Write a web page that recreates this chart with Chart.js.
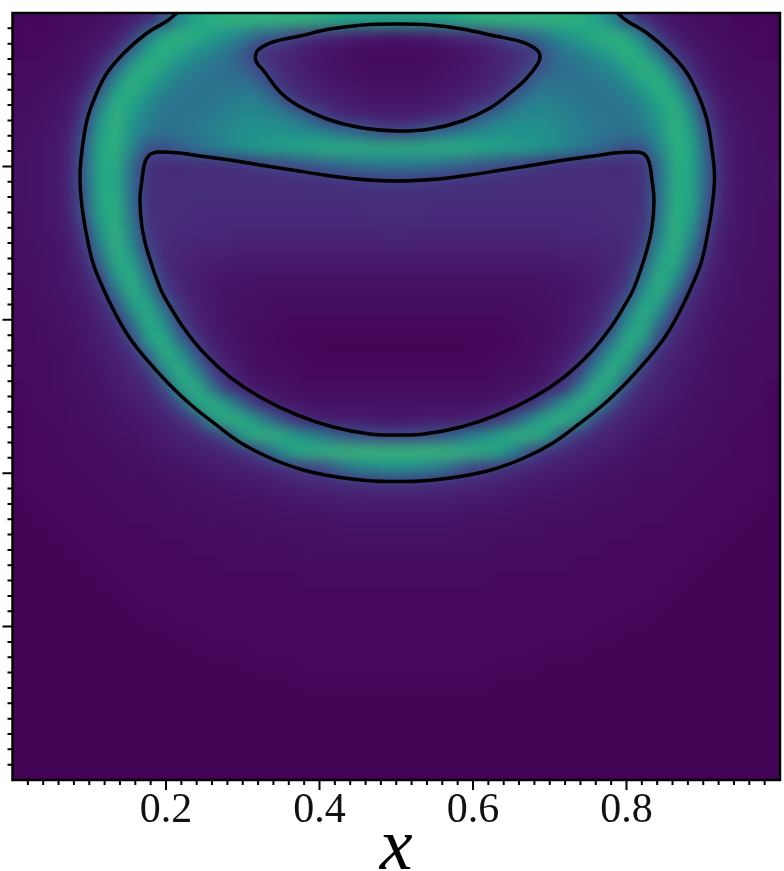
<!DOCTYPE html>
<html>
<head>
<meta charset="utf-8">
<title>x field</title>
<style>
  html, body { margin: 0; padding: 0; background: #fff; }
  canvas { display: block; }
</style>
<script src="https://cdn.jsdelivr.net/npm/chart.js@4/dist/chart.umd.min.js"></script>
</head>
<body>
<canvas id="myChart" width="784" height="871"></canvas>
<script>
'use strict';

// tick lists
let xTickLabels = [0.2, 0.4, 0.6, 0.8];
let majorTicks = [0.2, 0.4, 0.6, 0.8];
let minorTicks = [0.02, 0.04, 0.06, 0.08, 0.1, 0.12, 0.14, 0.16, 0.18, 0.22, 0.24, 0.26, 0.28, 0.3, 0.32, 0.34, 0.36, 0.38,
  0.42, 0.44, 0.46, 0.48, 0.5, 0.52, 0.54, 0.56, 0.58, 0.62, 0.64, 0.66, 0.68, 0.7, 0.72, 0.74, 0.76, 0.78,
  0.82, 0.84, 0.86, 0.88, 0.9, 0.92, 0.94, 0.96, 0.98];

// field, in percent of the colour range, top row first
let fieldRows = [
  [2,2,2,3,3,4,5,8,12,24,46,58,62,64,64,64,64,64,64,62,60,58,58,58,58,58,58,60,62,64,64,64,64,64,64,62,58,46,24,12,8,5,4,3,3,2,2,2],
  [2,2,2,3,4,5,8,15,42,60,64,62,56,50,42,32,28,20,14,12,10,8,7,6,6,7,8,10,12,14,20,28,32,42,50,56,62,64,60,42,15,8,5,4,3,2,2,2],
  [2,2,3,4,5,8,14,36,58,64,58,50,44,38,28,15,12,9,7,5,4,3,2,2,2,2,3,4,5,7,9,12,15,28,38,44,50,58,64,58,36,14,8,5,4,3,2,2],
  [3,3,3,4,6,12,32,58,64,57,47,42,38,36,30,22,13,10,8,6,5,4,3,3,3,3,4,5,6,8,10,13,22,30,36,38,42,47,57,64,58,32,12,6,4,3,3,3],
  [3,3,4,5,8,20,52,64,58,47,41,38,37,38,38,32,18,11,9,7,6,5,4,4,4,4,5,6,7,9,11,18,32,38,38,37,38,41,47,58,64,52,20,8,5,4,3,3],
  [3,4,5,6,13,38,62,60,48,41,38,38,39,41,43,42,34,18,12,10,8,7,6,6,6,6,7,8,10,12,18,34,42,43,41,39,38,38,41,48,60,62,38,13,6,5,4,3],
  [4,4,5,7,17,50,64,54,43,38,38,39,41,44,47,47,45,40,30,18,12,10,9,8,8,9,10,12,18,30,40,45,47,47,44,41,39,38,38,43,54,64,50,17,7,5,4,4],
  [4,5,6,8,24,56,64,50,40,37,38,40,43,46,49,50,50,50,48,44,38,34,27,22,22,27,34,38,44,48,50,50,50,49,46,43,40,38,37,40,50,64,56,24,8,6,5,4],
  [4,5,6,9,28,60,63,46,26,24,30,36,40,46,50,54,56,58,60,62,62,62,62,62,62,62,62,62,62,60,58,56,54,50,46,40,36,30,24,26,46,63,60,28,9,6,5,4],
  [5,5,6,9,30,60,62,36,15,12,12,13,13,14,15,18,21,24,27,31,35,38,40,41,41,40,38,35,31,27,24,21,18,15,14,13,13,12,12,15,36,62,60,30,9,6,5,5],
  [5,5,6,10,30,60,61,36,14,13,13,13,13,13,13,13,13,13,14,14,15,16,17,18,18,17,16,15,14,14,13,13,13,13,13,13,13,13,13,14,36,61,60,30,10,6,5,5],
  [5,5,6,9,28,60,62,36,14,13,13,13,13,13,13,13,13,13,13,13,13,13,13,13,13,13,13,13,13,13,13,13,13,13,13,13,13,13,13,14,36,62,60,28,9,6,5,5],
  [4,5,6,9,26,58,63,38,14,13,13,12,12,12,12,12,12,12,12,12,12,12,13,13,13,13,12,12,12,12,12,12,12,12,12,12,12,13,13,14,38,63,58,26,9,6,5,4],
  [4,5,6,8,19,52,64,42,15,13,12,12,11,11,11,11,11,11,11,11,11,11,11,12,12,11,11,11,11,11,11,11,11,11,11,11,12,12,13,15,42,64,52,19,8,6,5,4],
  [4,5,5,7,15,44,64,48,18,12,11,10,10,10,9,9,9,9,9,9,9,9,9,9,9,9,9,9,9,9,9,9,9,9,10,10,10,11,12,18,48,64,44,15,7,5,5,4],
  [4,4,5,7,12,34,62,56,26,12,10,9,8,8,7,7,7,7,7,7,7,7,7,7,7,7,7,7,7,7,7,7,7,7,8,8,9,10,12,26,56,62,34,12,7,5,4,4],
  [4,4,5,6,9,20,54,63,38,15,10,8,7,6,6,5,5,5,5,5,5,5,5,5,5,5,5,5,5,5,5,5,5,6,6,7,8,10,15,38,63,54,20,9,6,5,4,4],
  [3,4,5,6,8,14,38,63,50,19,11,8,6,5,5,4,4,4,4,4,4,4,4,4,4,4,4,4,4,4,4,4,4,5,5,6,8,11,19,50,63,38,14,8,6,5,4,3],
  [3,4,4,5,7,10,20,54,62,36,15,9,7,5,4,4,3,3,3,3,3,3,3,3,3,3,3,3,3,3,3,3,4,4,5,7,9,15,36,62,54,20,10,7,5,4,4,3],
  [3,3,4,5,6,9,14,34,62,52,19,10,7,5,4,3,3,2,2,2,2,2,2,2,2,2,2,2,2,2,2,3,3,4,5,7,10,19,52,62,34,14,9,6,5,4,3,3],
  [3,3,4,4,6,8,10,20,56,62,36,16,8,6,4,3,2,2,1,1,1,1,1,1,1,1,1,1,1,1,2,2,3,4,6,8,16,36,62,56,20,10,8,6,4,4,3,3],
  [3,3,3,4,5,7,9,12,30,62,56,29,12,7,5,3,3,2,2,1,1,1,1,1,1,1,1,1,1,2,2,3,3,5,7,12,29,56,62,30,12,9,7,5,4,3,3,3],
  [3,3,3,4,5,6,8,10,15,44,64,48,19,10,6,4,3,3,2,2,2,2,2,2,2,2,2,2,2,2,3,3,4,6,10,19,48,64,44,15,10,8,6,5,4,3,3,3],
  [2,3,3,4,4,5,7,9,11,20,56,64,40,15,9,6,5,4,3,3,3,3,3,3,3,3,3,3,3,3,4,5,6,9,15,40,64,56,20,11,9,7,5,4,4,3,3,2],
  [2,3,3,3,4,5,6,7,9,12,25,58,64,52,30,14,8,6,5,5,5,5,5,5,5,5,5,5,5,5,6,8,14,30,52,64,58,25,12,9,7,6,5,4,3,3,3,2],
  [2,2,3,3,4,4,5,6,7,9,12,20,52,64,62,48,30,17,10,8,7,7,7,6,6,7,7,7,8,10,17,30,48,62,64,52,20,12,9,7,6,5,4,4,3,3,2,2],
  [2,2,2,3,3,4,5,5,6,8,9,11,15,26,56,64,64,58,48,40,30,26,22,21,21,22,26,30,40,48,58,64,64,56,26,15,11,9,8,6,5,5,4,3,3,2,2,2],
  [2,2,2,3,3,3,4,4,5,6,7,8,9,11,14,22,42,58,63,64,66,66,66,66,66,66,66,66,64,63,58,42,22,14,11,9,8,7,6,5,4,4,3,3,3,2,2,2],
  [2,2,2,2,3,3,3,4,4,5,5,6,7,8,9,10,12,15,19,22,34,42,47,49,49,47,42,34,22,19,15,12,10,9,8,7,6,5,5,4,4,3,3,3,2,2,2,2],
  [2,2,2,2,2,3,3,3,3,4,4,5,5,6,6,7,8,9,10,11,12,13,14,15,15,14,13,12,11,10,9,8,7,6,6,5,5,4,4,3,3,3,3,2,2,2,2,2],
  [1,2,2,2,2,2,3,3,3,3,4,4,4,5,5,5,6,6,7,7,8,8,8,8,8,8,8,8,7,7,6,6,5,5,5,4,4,4,3,3,3,3,2,2,2,2,2,1],
  [1,1,2,2,2,2,2,3,3,3,3,3,4,4,4,4,5,5,5,5,6,6,6,6,6,6,6,6,5,5,5,5,4,4,4,4,3,3,3,3,3,2,2,2,2,2,1,1],
  [1,1,1,2,2,2,2,2,2,3,3,3,3,3,3,4,4,4,4,4,5,5,5,5,5,5,5,5,4,4,4,4,4,3,3,3,3,3,3,2,2,2,2,2,2,1,1,1],
  [1,1,1,1,2,2,2,2,2,2,2,3,3,3,3,3,3,3,4,4,4,4,4,4,4,4,4,4,4,4,3,3,3,3,3,3,3,2,2,2,2,2,2,2,1,1,1,1],
  [1,1,1,1,1,2,2,2,2,2,2,2,2,3,3,3,3,3,3,3,3,3,3,3,3,3,3,3,3,3,3,3,3,3,3,2,2,2,2,2,2,2,2,1,1,1,1,1],
  [1,1,1,1,1,1,2,2,2,2,2,2,2,2,2,2,2,2,3,3,3,3,3,3,3,3,3,3,3,3,2,2,2,2,2,2,2,2,2,2,2,2,1,1,1,1,1,1],
  [1,1,1,1,1,1,1,2,2,2,2,2,2,2,2,2,2,2,2,2,2,2,2,2,2,2,2,2,2,2,2,2,2,2,2,2,2,2,2,2,2,1,1,1,1,1,1,1],
  [1,1,1,1,1,1,1,1,2,2,2,2,2,2,2,2,2,2,2,2,2,2,2,2,2,2,2,2,2,2,2,2,2,2,2,2,2,2,2,2,1,1,1,1,1,1,1,1],
  [1,1,1,1,1,1,1,1,1,1,2,2,2,2,2,2,2,2,2,2,2,2,2,2,2,2,2,2,2,2,2,2,2,2,2,2,2,2,1,1,1,1,1,1,1,1,1,1],
  [1,1,1,1,1,1,1,1,1,1,1,1,2,2,2,2,2,2,2,2,2,2,2,2,2,2,2,2,2,2,2,2,2,2,2,2,1,1,1,1,1,1,1,1,1,1,1,1],
  [1,1,1,1,1,1,1,1,1,1,1,1,1,1,1,2,2,2,2,2,2,2,2,2,2,2,2,2,2,2,2,2,2,1,1,1,1,1,1,1,1,1,1,1,1,1,1,1],
  [1,1,1,1,1,1,1,1,1,1,1,1,1,1,1,1,1,1,2,2,2,2,2,2,2,2,2,2,2,2,1,1,1,1,1,1,1,1,1,1,1,1,1,1,1,1,1,1],
  [1,1,1,1,1,1,1,1,1,1,1,1,1,1,1,1,1,1,1,1,1,1,1,1,1,1,1,1,1,1,1,1,1,1,1,1,1,1,1,1,1,1,1,1,1,1,1,1],
  [1,1,1,1,1,1,1,1,1,1,1,1,1,1,1,1,1,1,1,1,1,1,1,1,1,1,1,1,1,1,1,1,1,1,1,1,1,1,1,1,1,1,1,1,1,1,1,1],
  [1,1,1,1,1,1,1,1,1,1,1,1,1,1,1,1,1,1,1,1,1,1,1,1,1,1,1,1,1,1,1,1,1,1,1,1,1,1,1,1,1,1,1,1,1,1,1,1],
  [1,1,1,1,1,1,1,1,1,1,1,1,1,1,1,1,1,1,1,1,1,1,1,1,1,1,1,1,1,1,1,1,1,1,1,1,1,1,1,1,1,1,1,1,1,1,1,1],
  [1,1,1,1,1,1,1,1,1,1,1,1,1,1,1,1,1,1,1,1,1,1,1,1,1,1,1,1,1,1,1,1,1,1,1,1,1,1,1,1,1,1,1,1,1,1,1,1],
  [1,1,1,1,1,1,1,1,1,1,1,1,1,1,1,1,1,1,1,1,1,1,1,1,1,1,1,1,1,1,1,1,1,1,1,1,1,1,1,1,1,1,1,1,1,1,1,1]
];

// contour lines
let outerX = [0.2143, 0.2013, 0.1752, 0.1466, 0.1231, 0.1075, 0.0971, 0.0906, 0.0879, 0.0906, 0.0971, 0.1049, 0.1179, 0.1336, 0.1518, 0.1752, 0.2013, 0.2313, 0.2638, 0.2977, 0.3355, 0.3785, 0.4228, 0.4697, 0.501, 0.5322, 0.5792, 0.6235, 0.6664, 0.7042, 0.7381, 0.7707, 0.8007, 0.8267, 0.8502, 0.8684, 0.884, 0.8971, 0.9049, 0.9114, 0.9147, 0.9114, 0.9049, 0.8945, 0.8788, 0.8554, 0.8267, 0.8007, 0.7879];
let outerY = [1, 0.9896, 0.9739, 0.9492, 0.9218, 0.8905, 0.8605, 0.8214, 0.7862, 0.7471, 0.708, 0.6741, 0.6415, 0.6089, 0.5776, 0.5476, 0.5189, 0.4902, 0.4642, 0.4394, 0.4198, 0.4042, 0.3951, 0.3898, 0.3892, 0.3898, 0.3951, 0.4042, 0.4198, 0.4394, 0.4642, 0.4902, 0.5189, 0.5476, 0.5776, 0.6089, 0.6415, 0.6741, 0.708, 0.7471, 0.7862, 0.8214, 0.8605, 0.8905, 0.9218, 0.9492, 0.9739, 0.9896, 1];

let lobeX = [0.1792, 0.1896, 0.2182, 0.2443, 0.2834, 0.3225, 0.3642, 0.4059, 0.4476, 0.501, 0.5544, 0.5961, 0.6378, 0.6795, 0.7186, 0.7577, 0.7837, 0.8124, 0.8228, 0.8293, 0.8332, 0.8358, 0.8332, 0.8254, 0.8098, 0.7993, 0.7798, 0.7537, 0.7186, 0.6795, 0.6312, 0.5844, 0.5362, 0.501, 0.4658, 0.4176, 0.3707, 0.3225, 0.2834, 0.2482, 0.2222, 0.2026, 0.1922, 0.1765, 0.1687, 0.1661, 0.1687, 0.1726, 0.1792];
let lobeY = [0.8162, 0.8188, 0.8175, 0.8136, 0.8084, 0.8018, 0.7953, 0.7888, 0.7836, 0.781, 0.7836, 0.7888, 0.7953, 0.8018, 0.8084, 0.8136, 0.8175, 0.8188, 0.8162, 0.8058, 0.7823, 0.7562, 0.721, 0.6871, 0.6415, 0.6219, 0.5906, 0.558, 0.5254, 0.4993, 0.4759, 0.4602, 0.4511, 0.4498, 0.4511, 0.4602, 0.4759, 0.4993, 0.5254, 0.558, 0.5906, 0.6219, 0.6415, 0.6871, 0.721, 0.7562, 0.7823, 0.8058, 0.8162];

let eyeX = [0.316, 0.3199, 0.3394, 0.3746, 0.4137, 0.4567, 0.501, 0.544, 0.5857, 0.6287, 0.6639, 0.6834, 0.6873, 0.6834, 0.6678, 0.6482, 0.6222, 0.5857, 0.544, 0.501, 0.4567, 0.4137, 0.3707, 0.3485, 0.3264, 0.3186, 0.316];
let eyeY = [0.9426, 0.9518, 0.9622, 0.97, 0.9791, 0.9844, 0.9857, 0.9844, 0.9791, 0.97, 0.9622, 0.9518, 0.9426, 0.9322, 0.9127, 0.8957, 0.8761, 0.8592, 0.8488, 0.8462, 0.8501, 0.8605, 0.8801, 0.897, 0.9257, 0.9348, 0.9426];

// viridis, 0 to 100 percent in steps of ten
let colourStops = [[68, 1, 84], [72, 36, 117], [65, 68, 135], [53, 95, 141], [42, 120, 142], [33, 145, 140], [34, 168, 132], [68, 191, 112], [122, 209, 81], [189, 223, 38], [253, 231, 37]];

function fieldColour(value) {
    let pos = value / 10;
    let low = Math.min(Math.floor(pos), colourStops.length - 2);
    let t = pos - low;
    let a = colourStops[low];
    let b = colourStops[low + 1];
    let r = Math.round(a[0] + (b[0] - a[0]) * t);
    let g = Math.round(a[1] + (b[1] - a[1]) * t);
    let bl = Math.round(a[2] + (b[2] - a[2]) * t);
    return `rgb(${r},${g},${bl})`;
}

function zipLine(xs, ys) {
    let points = [];
    for (let i = 0; i < xs.length; i++) {
        points.push({x: xs[i], y: ys[i]});
    }
    return points;
}

function lineDataset(xs, ys) {
    return {
        type: 'line',
        data: zipLine(xs, ys),
        borderColor: '#000',
        borderWidth: 3.5,
        tension: 0.4,
        pointRadius: 0,
        fill: false,
        order: 1
    };
}

let cellPoints = [];
let cellColours = [];
for (let row = 0; row < fieldRows.length; row++) {
    for (let col = 0; col < fieldRows[row].length; col++) {
        cellPoints.push({
            x: (col + 0.5) / fieldRows[row].length,
            y: 1 - (row + 0.5) / fieldRows.length
        });
        cellColours.push(fieldColour(fieldRows[row][col]));
    }
}

// the cells are drawn by the scatter dataset, this only softens their edges
let softenCells = {
    id: 'softenCells',
    afterDatasetDraw(chart, args) {
        if (args.index !== 0) {
            return;
        }
        let area = chart.chartArea;
        let w = area.right - area.left;
        let h = area.bottom - area.top;
        let copy = document.createElement('canvas');
        copy.width = Math.ceil(w);
        copy.height = Math.ceil(h);
        copy.getContext('2d').drawImage(chart.canvas, area.left, area.top, w, h, 0, 0, w, h);
        let ctx = chart.ctx;
        ctx.save();
        ctx.beginPath();
        ctx.rect(area.left, area.top, w, h);
        ctx.clip();
        ctx.filter = 'blur(7px)';
        ctx.drawImage(copy, area.left, area.top, w, h);
        ctx.restore();
    }
};

// frame and the two lengths of tick mark
let frameAndTicks = {
    id: 'frameAndTicks',
    afterDraw(chart) {
        let ctx = chart.ctx;
        let area = chart.chartArea;
        let xScale = chart.scales.x;
        let yScale = chart.scales.y;
        ctx.save();
        ctx.strokeStyle = '#000';
        ctx.lineWidth = 2.5;
        ctx.strokeRect(area.left, area.top, area.right - area.left, area.bottom - area.top);
        function marks(values, size, width) {
            ctx.lineWidth = width;
            ctx.beginPath();
            values.forEach(function (v) {
                let px = xScale.getPixelForValue(v);
                let py = yScale.getPixelForValue(v);
                ctx.moveTo(px, area.bottom);
                ctx.lineTo(px, area.bottom + size);
                ctx.moveTo(area.left, py);
                ctx.lineTo(area.left - size, py);
            });
            ctx.stroke();
        }
        marks(minorTicks, 5, 2);
        marks(majorTicks, 10, 2);
        ctx.restore();
    }
};

let chartObject = {
    type: 'scatter',
    data: {
        datasets: [
            {
                data: cellPoints,
                pointStyle: 'rect',
                pointRadius: 12.2,
                pointBorderWidth: 0,
                pointBackgroundColor: cellColours,
                order: 2
            },
            lineDataset(outerX, outerY),
            lineDataset(lobeX, lobeY),
            lineDataset(eyeX, eyeY)
        ]
    },
    options: {
        responsive: false,
        animation: false,
        events: [],
        layout: {autoPadding: false, padding: {top: 13, right: 4, bottom: 0, left: 0}},
        plugins: {legend: {display: false}, tooltip: {enabled: false}},
        scales: {
            x: {
                type: 'linear',
                min: 0,
                max: 1,
                afterBuildTicks: function (scale) {
                    scale.ticks = xTickLabels.map(function (v) { return {value: v}; });
                },
                afterFit: function (scale) {
                    scale.height = 91;
                },
                grid: {display: false},
                border: {display: false},
                ticks: {
                    maxRotation: 0,
                    autoSkip: false,
                    padding: -2,
                    color: '#111',
                    font: {family: '"Liberation Serif"', size: 42},
                    callback: function (v) { return v.toFixed(1); }
                },
                title: {
                    display: true,
                    text: 'x',
                    color: '#000',
                    padding: {top: 0, bottom: -23},
                    font: {family: '"Liberation Serif"', size: 74, style: 'italic'}
                }
            },
            y: {
                type: 'linear',
                min: 0,
                max: 1,
                afterFit: function (scale) {
                    scale.width = 12.5;
                },
                grid: {display: false},
                border: {display: false},
                ticks: {display: false}
            }
        }
    },
    plugins: [softenCells, frameAndTicks]
};

let ctx = document.getElementById('myChart').getContext('2d');
let myChart = new Chart(ctx, chartObject);
</script>
</body>
</html>
